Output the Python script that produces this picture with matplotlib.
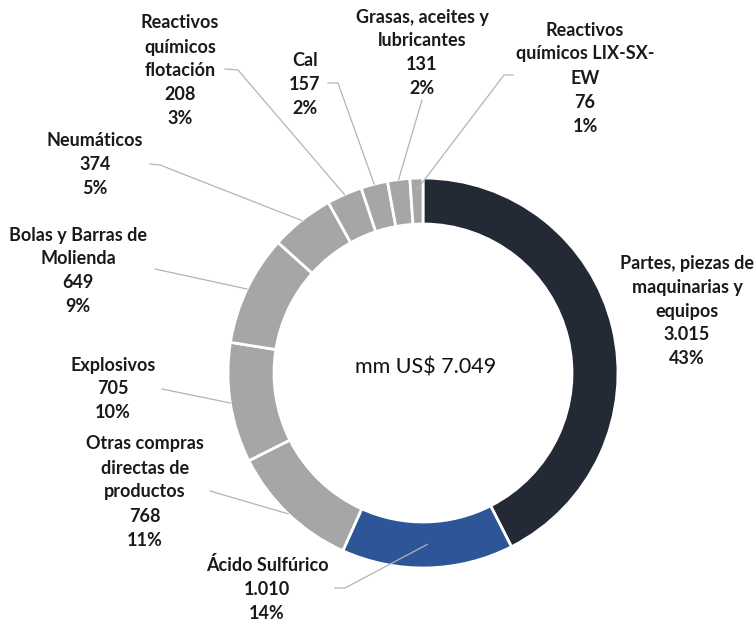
import numpy as np
import matplotlib
matplotlib.use("Agg")
import matplotlib.pyplot as plt

# datos (mm US$)
categorias = ["Partes, piezas de\nmaquinarias y\nequipos", "Ácido Sulfúrico",
              "Otras compras\ndirectas de\nproductos", "Explosivos",
              "Bolas y Barras de\nMolienda", "Neumáticos",
              "Reactivos\nquímicos\nflotación", "Cal",
              "Grasas, aceites y\nlubricantes", "Reactivos\nquímicos LIX-SX-\nEW"]
valores = [3015, 1010, 768, 705, 649, 374, 208, 157, 131, 76]
valores_txt = ["3.015", "1.010", "768", "705", "649", "374", "208", "157", "131", "76"]
porcentajes = ["43%", "14%", "11%", "10%", "9%", "5%", "3%", "2%", "2%", "1%"]
total_txt = "mm US$ 7.049"

colores = ["#232a36", "#2e5597"] + ["#a6a6a6"] * 8

W, H = 756, 627
fig = plt.figure(figsize=(W / 100, H / 100), dpi=100)
ax = fig.add_axes([0, 0, 1, 1])
ax.set_xlim(0, W)
ax.set_ylim(0, H)
ax.set_aspect("equal")
ax.axis("off")

cx, cy, R = 423, H - 373, 195
wedges, _ = ax.pie(valores, colors=colores, startangle=90, counterclock=False,
                   radius=R, center=(cx, cy), frame=True,
                   wedgeprops=dict(width=46, edgecolor="white", linewidth=2))
ax.set_xlim(0, W)
ax.set_ylim(0, H)
ax.axis("off")

ax.text(cx + 3, H - 367, total_txt, ha="center", va="center",
        fontsize=15.5, family="Lato", color="#111111")

# posicion de etiquetas (pixeles) y codo de la linea guia
etiquetas = [
    (687, 311, None, None, 1.0),
    (267, 589, (335, 588), (345, 588), 0.88),
    (145, 492, (210, 491), None, 1.0),
    (113, 389, (162, 389), None, 1.0),
    (78, 271, (155, 269), None, 1.0),
    (95, 165, (150, 164), (160, 165), 1.0),
    (180, 71, (225, 69), (238, 70), 1.0),
    (305, 84, (328, 83), (338, 83), 1.0),
    (422, 53, (422, 100), None, 1.0),
    (585, 78, (513, 75), (504, 75), 0.94),
]

for w, cat, v, p, (lx, ly, a, b, rf) in zip(wedges, categorias, valores_txt,
                                            porcentajes, etiquetas):
    ax.text(lx, H - ly, f"{cat}\n{v}\n{p}", ha="center", va="center",
            fontsize=13, family="Lato", weight="bold", color="#1a1a1a",
            linespacing=1.5)
    if a is None:
        continue
    ang = np.deg2rad((w.theta1 + w.theta2) / 2)
    ex, ey = cx + R * rf * np.cos(ang), cy + R * rf * np.sin(ang)
    xs = [a[0]] + ([b[0]] if b else []) + [ex]
    ys = [H - a[1]] + ([H - b[1]] if b else []) + [ey]
    ax.plot(xs, ys, color="#b4b4b4", lw=0.9, zorder=3)

fig.savefig("out.png", dpi=100)
